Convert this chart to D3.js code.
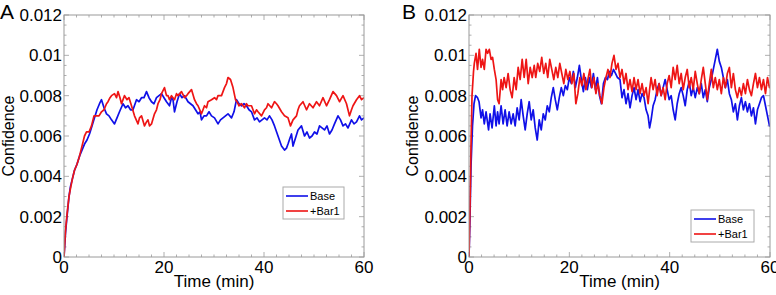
<!DOCTYPE html>
<html lang="en">
  <head>
    <meta charset="UTF-8" />
    <title>confidence</title>
    <style>
      body {
        margin: 0;
        background: #fff;
      }
      svg text {
        font-family: "Liberation Sans", Arial, sans-serif;
      }
    </style>
  </head>

  <body>
    <svg id="chart" width="776" height="295"></svg>

    <script src="https://d3js.org/d3.v7.min.js"></script>
    <script>
      // data: [time (min), confidence x 1e-3]
      const xTicks = [0, 20, 40, 60];
      const yTicks = [0, 0.002, 0.004, 0.006, 0.008, 0.01, 0.012];
      const seriesNames = ["Base", "+Bar1"];
      const panelLabels = ["A", "B"];

      const baseA = [
        [0, 0], [0.3, 1.2], [0.6, 2.0], [1.0, 3.0], [1.3, 3.5], [1.7, 3.9], [2.1, 4.3], [2.6, 4.6],
        [3.1, 5.0], [3.6, 5.3], [4.1, 5.6], [4.6, 5.8], [5.1, 6.1], [5.6, 6.5], [6.1, 6.9], [6.6, 7.3],
        [7.1, 7.6], [7.5, 7.8], [8.0, 7.4], [8.5, 7.1], [9.0, 7.0], [9.5, 6.8], [10.1, 6.6], [10.6, 6.9],
        [11.1, 7.2], [11.8, 7.6], [12.3, 7.4], [12.8, 7.5], [13.3, 7.3], [13.8, 7.3], [14.5, 7.8], [15.0, 7.7],
        [15.5, 7.9], [16.0, 7.9], [16.5, 8.2], [17.0, 7.9], [17.5, 7.7], [18.0, 7.6], [18.5, 7.9], [19.0, 8.0],
        [19.5, 8.1], [20.0, 7.9], [20.5, 7.7], [21.1, 7.5], [21.5, 7.9], [21.8, 7.8], [22.1, 7.2], [22.6, 7.7],
        [23.1, 8.1], [23.6, 7.9], [24.1, 8.0], [24.8, 7.7], [25.3, 7.6], [25.8, 7.5], [26.3, 7.3], [26.8, 7.1],
        [27.2, 7.2], [27.5, 6.8], [28.0, 7.0], [28.5, 7.0], [29.0, 7.2], [29.5, 7.0], [30.1, 6.9], [30.8, 6.6],
        [31.3, 6.8], [31.8, 6.9], [32.3, 7.0], [32.8, 7.1], [33.5, 6.9], [34.0, 7.2], [34.5, 7.8], [35.0, 7.6],
        [35.5, 7.5], [36.0, 7.6], [36.5, 7.5], [37.0, 7.3], [37.5, 7.2], [38.1, 6.8], [38.6, 6.9], [39.1, 6.7],
        [39.6, 6.8], [40.1, 6.9], [40.6, 6.8], [41.1, 7.0], [41.6, 6.8], [42.1, 6.5], [42.8, 6.0], [43.5, 5.5],
        [44.1, 5.3], [44.5, 5.4], [44.8, 5.6], [45.2, 5.9], [45.5, 6.1], [45.8, 5.5], [46.3, 5.9], [46.8, 6.3],
        [47.5, 6.5], [48.1, 6.0], [48.6, 6.2], [49.1, 5.9], [49.6, 6.0], [50.1, 6.2], [50.6, 6.1], [51.1, 6.5],
        [51.6, 6.4], [52.1, 6.3], [52.6, 6.5], [53.1, 6.1], [53.6, 6.3], [54.1, 6.6], [54.8, 7.0], [55.3, 6.8],
        [55.8, 6.5], [56.3, 6.6], [56.8, 6.4], [57.5, 6.8], [58.0, 6.6], [58.5, 6.7], [59.1, 7.0], [59.5, 6.8],
        [60.0, 6.9],
      ];

      const barA = [
        [0, 0], [0.3, 1.3], [0.6, 2.1], [1.0, 3.0], [1.3, 3.4], [1.7, 3.9], [2.1, 4.3], [2.6, 4.6],
        [3.1, 5.0], [3.6, 5.5], [4.1, 6.0], [4.5, 6.2], [5.0, 6.2], [5.5, 6.5], [6.0, 7.0], [6.5, 7.0],
        [7.0, 7.0], [7.5, 7.2], [8.0, 7.3], [8.5, 7.6], [8.8, 7.7], [9.2, 7.9], [9.5, 8.0], [10.1, 8.1],
        [10.5, 7.9], [10.8, 8.2], [11.2, 7.9], [11.5, 7.6], [12.1, 8.0], [12.6, 7.8], [13.0, 7.9], [13.5, 7.5],
        [14.1, 7.0], [14.8, 6.6], [15.1, 6.9], [15.5, 7.0], [16.1, 6.5], [16.5, 6.7], [16.8, 6.8], [17.1, 6.5],
        [17.5, 6.6], [18.1, 7.1], [18.5, 7.3], [18.8, 7.6], [19.2, 7.8], [19.5, 8.1], [20.1, 8.4], [20.5, 8.0],
        [20.8, 8.0], [21.1, 7.8], [21.5, 8.0], [22.1, 7.8], [22.5, 8.1], [22.8, 8.0], [23.5, 8.2], [24.1, 7.9],
        [24.5, 8.0], [24.8, 8.1], [25.5, 8.3], [26.1, 7.8], [26.5, 7.6], [26.8, 7.5], [27.5, 7.1], [28.1, 7.5],
        [28.5, 7.4], [28.8, 7.7], [29.5, 7.8], [30.1, 7.9], [30.5, 7.8], [30.8, 8.0], [31.5, 8.0], [32.1, 8.4],
        [32.5, 8.6], [32.8, 8.9], [33.3, 8.8], [33.8, 8.4], [34.3, 7.8], [34.6, 7.7], [35.0, 7.5], [35.5, 7.6],
        [36.1, 7.4], [36.5, 7.6], [36.8, 7.5], [37.5, 7.5], [38.1, 7.1], [38.5, 7.3], [38.8, 7.2], [39.5, 7.0],
        [40.1, 7.3], [40.5, 7.4], [40.8, 7.6], [41.5, 7.4], [42.1, 7.7], [42.5, 7.6], [42.8, 7.5], [43.5, 7.2],
        [44.1, 7.0], [44.8, 6.9], [45.3, 6.5], [45.8, 6.8], [46.5, 7.0], [46.8, 7.3], [47.1, 7.5], [47.8, 7.7],
        [48.5, 7.3], [49.1, 7.6], [49.8, 7.4], [50.5, 7.7], [51.1, 7.5], [51.8, 7.9], [52.5, 7.5], [53.1, 7.8],
        [53.8, 8.2], [54.5, 8.0], [55.1, 7.7], [55.8, 8.0], [56.5, 7.6], [57.1, 7.0], [57.5, 7.3], [57.8, 7.5],
        [58.5, 7.8], [59.1, 8.0], [59.5, 7.8], [60.0, 7.9],
      ];

      const baseB = [
        [0, 0], [0.2, 2.0], [0.4, 4.5], [0.7, 6.5], [1.0, 7.6], [1.3, 8.0], [1.7, 7.9], [2.0, 7.7],
        [2.4, 6.9], [2.7, 7.3], [3.05, 6.6], [3.4, 7.2], [3.9, 6.3], [4.2, 7.1], [4.6, 6.4], [5.05, 7.5],
        [5.4, 6.5], [5.7, 7.2], [6.0, 6.6], [6.4, 7.5], [6.8, 6.6], [7.2, 7.3], [7.6, 6.5], [8.0, 7.2],
        [8.4, 6.6], [8.8, 7.1], [9.2, 6.5], [9.6, 7.4], [10.0, 6.8], [10.4, 7.8], [10.8, 7.0], [11.2, 6.3],
        [11.6, 7.1], [12.0, 7.7], [12.4, 6.8], [12.8, 7.3], [13.2, 6.4], [13.6, 5.8], [14.0, 6.8], [14.4, 6.3],
        [14.8, 7.1], [15.2, 6.8], [15.6, 7.5], [16.0, 7.2], [16.4, 7.9], [16.8, 8.4], [17.2, 7.8], [17.6, 7.3],
        [18.0, 7.9], [18.4, 8.4], [18.8, 8.0], [19.2, 8.5], [19.6, 8.3], [20.0, 8.9], [20.4, 8.6], [20.8, 9.2],
        [21.2, 8.4], [21.6, 8.9], [22.0, 9.5], [22.4, 8.8], [22.8, 8.2], [23.2, 8.9], [23.6, 8.3], [24.0, 8.9],
        [24.4, 8.4], [24.8, 9.1], [25.2, 8.3], [25.6, 8.9], [26.0, 8.0], [26.4, 7.6], [26.8, 8.6], [27.2, 8.9],
        [27.6, 8.8], [28.0, 9.2], [28.4, 9.0], [28.8, 9.3], [29.2, 9.1], [29.6, 8.9], [30.1, 8.8], [30.5, 7.9],
        [30.9, 8.3], [31.3, 7.6], [31.7, 8.1], [32.1, 7.4], [32.5, 8.0], [32.9, 8.4], [33.3, 7.8], [33.7, 8.3],
        [34.1, 7.7], [34.5, 8.1], [34.9, 7.9], [35.3, 7.3], [35.7, 7.0], [36.0, 6.4], [36.3, 6.8], [36.7, 7.5],
        [37.1, 7.8], [37.5, 8.3], [37.9, 8.6], [38.3, 8.0], [38.7, 8.4], [39.1, 8.8], [39.5, 8.3], [39.9, 7.8],
        [40.3, 8.0], [40.7, 7.3], [41.1, 6.8], [41.5, 7.6], [41.9, 8.1], [42.3, 8.4], [42.7, 8.0], [43.1, 7.5],
        [43.5, 8.3], [43.9, 8.7], [44.3, 8.0], [44.7, 8.4], [45.1, 7.9], [45.5, 8.4], [45.9, 8.1], [46.3, 8.6],
        [46.7, 7.9], [47.1, 8.3], [47.5, 7.7], [47.9, 8.4], [48.3, 8.8], [48.7, 9.3], [49.1, 9.8], [49.5, 10.3],
        [49.9, 9.7], [50.3, 9.4], [50.7, 8.9], [51.1, 8.4], [51.5, 8.8], [51.9, 8.1], [52.3, 7.8], [52.7, 7.2],
        [53.1, 7.6], [53.5, 6.8], [53.9, 7.5], [54.3, 7.9], [54.7, 7.3], [55.1, 7.7], [55.5, 7.2], [55.9, 7.6],
        [56.3, 7.0], [56.7, 7.4], [57.1, 6.6], [57.5, 7.3], [57.9, 7.6], [58.3, 7.9], [58.7, 8.0], [59.1, 7.5],
        [59.5, 7.0], [59.9, 6.5], [60, 6.6],
      ];

      const barB = [
        [0, 0], [0.2, 2.5], [0.4, 5.5], [0.6, 8.0], [0.9, 9.2], [1.06, 9.6], [1.4, 10.1], [1.7, 9.3],
        [2.05, 10.3], [2.4, 9.4], [2.7, 9.8], [3.05, 9.3], [3.4, 10.3], [3.7, 10.1], [4.05, 10.3], [4.4, 9.8],
        [4.7, 9.9], [5.05, 9.3], [5.4, 8.8], [5.7, 7.8], [6.0, 7.6], [6.4, 8.8], [6.7, 8.3], [7.0, 8.9],
        [7.4, 8.4], [7.8, 9.1], [8.2, 8.3], [8.6, 7.9], [9.0, 8.9], [9.4, 8.3], [9.8, 9.4], [10.2, 8.8],
        [10.6, 9.8], [11.0, 8.9], [11.4, 9.8], [11.8, 8.6], [12.2, 9.4], [12.6, 8.9], [13.0, 9.5], [13.3, 8.9],
        [13.7, 9.6], [14.1, 9.2], [14.5, 9.9], [14.9, 9.1], [15.3, 9.6], [15.7, 8.9], [16.1, 9.8], [16.5, 9.3],
        [16.9, 8.8], [17.3, 9.4], [17.7, 8.9], [18.1, 9.6], [18.5, 9.1], [18.9, 8.6], [19.3, 9.3], [19.7, 8.8],
        [20.1, 9.2], [20.5, 8.6], [20.9, 9.1], [21.3, 7.6], [21.7, 8.1], [22.1, 8.9], [22.5, 8.5], [22.9, 9.1],
        [23.3, 8.3], [23.7, 8.8], [24.1, 9.3], [24.5, 8.4], [24.9, 8.9], [25.3, 8.1], [25.7, 8.6], [26.1, 8.0],
        [26.5, 7.6], [26.9, 8.4], [27.3, 8.9], [27.7, 9.3], [28.1, 8.9], [28.5, 9.6], [28.9, 10.0], [29.3, 9.3],
        [29.7, 9.6], [30.1, 8.9], [30.5, 9.3], [30.9, 8.6], [31.3, 9.1], [31.7, 8.3], [32.1, 8.8], [32.5, 8.2],
        [32.9, 8.9], [33.3, 8.3], [33.7, 8.8], [34.1, 8.1], [34.5, 8.6], [34.9, 8.0], [35.3, 8.4], [35.7, 7.6],
        [36.0, 8.3], [36.3, 8.9], [36.7, 8.3], [37.1, 8.8], [37.5, 8.0], [37.9, 8.6], [38.3, 8.0], [38.7, 8.4],
        [39.1, 7.8], [39.5, 8.6], [39.9, 9.0], [40.3, 8.4], [40.7, 9.4], [41.1, 8.8], [41.5, 9.5], [41.9, 8.6],
        [42.3, 9.1], [42.7, 8.3], [43.1, 8.9], [43.5, 9.3], [43.9, 8.4], [44.3, 8.9], [44.7, 8.3], [45.1, 9.2],
        [45.5, 8.6], [45.9, 8.1], [46.3, 8.8], [46.7, 9.4], [47.1, 8.6], [47.5, 7.8], [47.9, 8.6], [48.3, 9.3],
        [48.7, 8.4], [49.1, 8.9], [49.5, 8.3], [49.9, 8.8], [50.3, 8.1], [50.7, 8.9], [51.1, 8.4], [51.5, 9.1],
        [51.9, 9.4], [52.3, 8.4], [52.7, 9.1], [53.1, 8.3], [53.5, 7.9], [53.9, 8.4], [54.3, 8.0], [54.7, 8.6],
        [55.1, 8.1], [55.5, 8.8], [55.9, 8.3], [56.3, 8.0], [56.7, 8.6], [57.1, 9.1], [57.5, 8.4], [57.9, 8.9],
        [58.3, 8.3], [58.7, 8.8], [59.1, 8.1], [59.5, 8.9], [59.9, 8.4], [60, 8.5],
      ];

      const colors = ["#1010e8", "#ee1515"];
      const axisGray = "#9a9a9a";

      const panels = [
        { label: panelLabels[0], series: [baseA, barA], left: 64, right: 364, labelX: 0, yTitleX: 14,
          legend: { x: 283, y: 187, w: 61, h: 32 } },
        { label: panelLabels[1], series: [baseB, barB], left: 469, right: 770, labelX: 402, yTitleX: 418,
          legend: { x: 691, y: 210, w: 63, h: 32 } },
      ];
      const plotTop = 15, plotBottom = 257;

      const svg = d3.select("#chart");
      const fmt = (d) => (d === 0 ? "0" : String(+d.toFixed(3)));

      panels.forEach((p) => {
        const x = d3.scaleLinear().domain([0, 60]).range([p.left, p.right]);
        const y = d3.scaleLinear().domain([0, 0.012]).range([plotBottom, plotTop]);
        const g = svg.append("g");

        // minor ticks (all four sides, inward)
        const xMinor = d3.range(0, 60.01, 2.5);
        const yMinor = d3.range(0, 0.01201, 0.0005);
        const tk = g.append("g").attr("stroke", axisGray).attr("stroke-width", 0.8);
        xMinor.forEach((t) => {
          const len = t % 20 === 0 ? 5 : 2.5;
          tk.append("line").attr("x1", x(t)).attr("x2", x(t)).attr("y1", plotBottom).attr("y2", plotBottom - len);
          tk.append("line").attr("x1", x(t)).attr("x2", x(t)).attr("y1", plotTop).attr("y2", plotTop + len);
        });
        yMinor.forEach((v, i) => {
          const len = i % 4 === 0 ? 5 : 2.5;
          tk.append("line").attr("x1", p.left).attr("x2", p.left + len).attr("y1", y(v)).attr("y2", y(v));
          tk.append("line").attr("x1", p.right).attr("x2", p.right - len).attr("y1", y(v)).attr("y2", y(v));
        });

        // clipped lines
        const clipId = "clip" + p.label;
        svg.append("clipPath").attr("id", clipId)
          .append("rect").attr("x", p.left).attr("y", plotTop)
          .attr("width", p.right - p.left).attr("height", plotBottom - plotTop);

        const line = d3.line().x((d) => x(d[0])).y((d) => y(d[1] / 1000));
        g.append("g").attr("clip-path", `url(#${clipId})`)
          .selectAll("path")
          .data(p.series)
          .join("path")
          .attr("d", line)
          .attr("fill", "none")
          .attr("stroke", (d, i) => colors[i])
          .attr("stroke-width", 1.7)
          .attr("stroke-linejoin", "round");

        // box
        g.append("rect")
          .attr("x", p.left).attr("y", plotTop)
          .attr("width", p.right - p.left).attr("height", plotBottom - plotTop)
          .attr("fill", "none").attr("stroke", axisGray).attr("stroke-width", 1);

        // tick labels
        g.append("g").selectAll("text").data(xTicks).join("text")
          .attr("x", (d) => x(d)).attr("y", 273)
          .attr("text-anchor", "middle").attr("font-size", 17).text((d) => d);
        g.append("g").selectAll("text").data(yTicks).join("text")
          .attr("x", p.left - 2).attr("y", (d) => y(d) + 6)
          .attr("text-anchor", "end").attr("font-size", 17).text(fmt);

        // titles
        g.append("text").attr("x", (p.left + p.right) / 2).attr("y", 287)
          .attr("text-anchor", "middle").attr("font-size", 17).text("Time (min)");
        g.append("text")
          .attr("transform", `translate(${p.yTitleX},${(plotTop + plotBottom) / 2}) rotate(-90)`)
          .attr("text-anchor", "middle").attr("font-size", 16).text("Confidence");
        g.append("text").attr("x", p.labelX).attr("y", 19).attr("font-size", 21).text(p.label);

        // legend
        const L = p.legend;
        const lg = g.append("g");
        lg.append("rect").attr("x", L.x).attr("y", L.y).attr("width", L.w).attr("height", L.h)
          .attr("fill", "#fff").attr("stroke", "#aaa").attr("stroke-width", 1);
        seriesNames.forEach((name, i) => {
          const ly = L.y + 9 + i * 15;
          lg.append("line").attr("x1", L.x + 3).attr("x2", L.x + 25).attr("y1", ly).attr("y2", ly)
            .attr("stroke", colors[i]).attr("stroke-width", 1.6);
          lg.append("text").attr("x", L.x + 27).attr("y", ly + 4).attr("font-size", 11).text(name);
        });
      });
    </script>
  </body>
</html>
